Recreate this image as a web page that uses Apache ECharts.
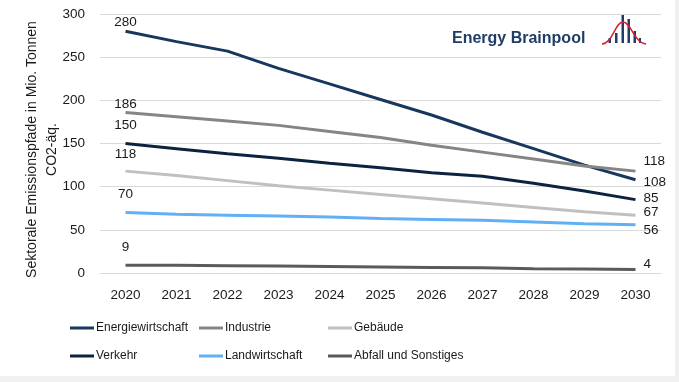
<!DOCTYPE html>
<html><head><meta charset="utf-8">
<script src="https://cdn.jsdelivr.net/npm/echarts@6/dist/echarts.min.js"></script>
<style>
html,body{margin:0;padding:0;background:#f0f0f0;width:679px;height:382px;overflow:hidden}
#c{position:absolute;left:0;top:0;width:675px;height:376px;background:#fff}
</style></head><body><div id="c"></div>
<script>
var years = ['2020','2021','2022','2023','2024','2025','2026','2027','2028','2029','2030'];
var energiewirtschaft = [280, 268, 257, 237, 219, 201, 183, 163, 144, 125, 108];
var industrie = [186, 181, 176, 171, 164, 157, 148, 140, 132, 124, 118];
var gebaeude = [118, 113, 107, 101, 96, 91, 86, 81, 76, 71, 67];
var verkehr = [150, 144, 138, 133, 127, 122, 116, 112, 104, 95, 85];
var landwirtschaft = [70, 68, 67, 66, 65, 63, 62, 61, 59, 57, 56];
var abfall = [9, 9, 8.5, 8, 7.5, 7, 6.5, 6, 5, 4.5, 4];
var yTicks = [0, 50, 100, 150, 200, 250, 300];

var seriesDefs = [
  {name:'Energiewirtschaft', data:energiewirtschaft, color:'#17375e', first:[0,3], last:[0,3]},
  {name:'Industrie', data:industrie, color:'#858585', first:[0,4], last:[0,-10]},
  {name:'Gebäude', data:gebaeude, color:'#c0c0c0', first:[0,-5], last:[0,-3]},
  {name:'Verkehr', data:verkehr, color:'#0c2340', first:[0,-6], last:[0,-1]},
  {name:'Landwirtschaft', data:landwirtschaft, color:'#61b0f5', first:[0,-6], last:[0,6]},
  {name:'Abfall und Sonstiges', data:abfall, color:'#5b5b5b', first:[0,-6], last:[0,-5]}
];
var FONT = 'Liberation Sans';
var labelStyle = {color:'#1a1a1a', fontSize:13.5, fontFamily:FONT};

var series = seriesDefs.map(function(s){
  var n = s.data.length;
  return {
    name:s.name, type:'line', symbol:'circle', symbolSize:0.01, showSymbol:true,
    lineStyle:{width:3, color:s.color}, itemStyle:{color:s.color},
    label:{show:false},
    data: s.data.map(function(v,i){
      var item = {value:v};
      if(i===0){
        item.label = Object.assign({show:true, position:'top', distance:5, offset:s.first,
          formatter:String(Math.round(v))}, labelStyle);
      } else if(i===n-1){
        item.label = Object.assign({show:true, position:'right', distance:8, offset:s.last,
          formatter:String(Math.round(v))}, labelStyle);
      }
      return item;
    })
  };
});

var legendPos = [[70,322],[199,322],[328,322],[70,350],[199,350],[328,350]];
var legends = seriesDefs.map(function(s,i){
  return {data:[s.name], left:legendPos[i][0], top:legendPos[i][1], icon:'rect',
    itemWidth:24, itemHeight:3, padding:0,
    textStyle:{color:'#1a1a1a', fontSize:12, fontFamily:FONT, padding:[0,0,0,-3]}};
});

var chart = echarts.init(document.getElementById('c'), null, {renderer:'canvas'});
chart.setOption({
  animation:false,
  backgroundColor:'#fff',
  grid:{left:100, right:14, top:14, bottom:103},
  legend: legends,
  xAxis:{type:'category', data:years, boundaryGap:true,
    axisLine:{show:true, lineStyle:{color:'#d9d9d9'}}, axisTick:{show:false},
    axisLabel:{color:'#1a1a1a', fontSize:13.5, fontFamily:FONT, margin:15}},
  yAxis:{type:'value', min:yTicks[0], max:yTicks[yTicks.length-1], interval:50,
    axisLine:{show:false}, axisTick:{show:false},
    splitLine:{lineStyle:{color:'#d9d9d9', width:1}},
    axisLabel:{color:'#1a1a1a', fontSize:13.5, fontFamily:FONT, margin:15},
    name:'Sektorale Emissionspfade in Mio. Tonnen\nCO2-äq.', nameLocation:'middle', nameRotate:90,
    nameGap:38, nameMoveOverlap:false,
    nameTextStyle:{color:'#1a1a1a', fontSize:14, fontFamily:FONT, lineHeight:20, padding:[0,12,0,0]}},
  graphic:[
    {type:'text', x:452, y:31, style:{text:'Energy Brainpool', fill:'#1f3d66',
      font:'bold 16px "Liberation Sans"'}},
    {type:'rect', shape:{x:608.5,y:38,width:2.5,height:5}, style:{fill:'#1f3d66'}},
    {type:'rect', shape:{x:615,y:33,width:2.5,height:10}, style:{fill:'#1f3d66'}},
    {type:'rect', shape:{x:621.5,y:14,width:2.5,height:29}, style:{fill:'#1f3d66'}},
    {type:'rect', shape:{x:627.5,y:19,width:2.5,height:24}, style:{fill:'#1f3d66'}},
    {type:'rect', shape:{x:633.5,y:31,width:2.5,height:12}, style:{fill:'#1f3d66'}},
    {type:'rect', shape:{x:639,y:38,width:2,height:5}, style:{fill:'#1f3d66'}},
    {type:'bezierCurve', shape:{x1:602,y1:44,cpx1:613,cpy1:43,cpx2:615,cpy2:22,x2:623,y2:22},
      style:{fill:null, stroke:'#d8202e', lineWidth:1.5}},
    {type:'bezierCurve', shape:{x1:623,y1:22,cpx1:631,cpy1:22,cpx2:634,cpy2:43,x2:646,y2:44},
      style:{fill:null, stroke:'#d8202e', lineWidth:1.5}}
  ],
  series:series
});
</script></body></html>
